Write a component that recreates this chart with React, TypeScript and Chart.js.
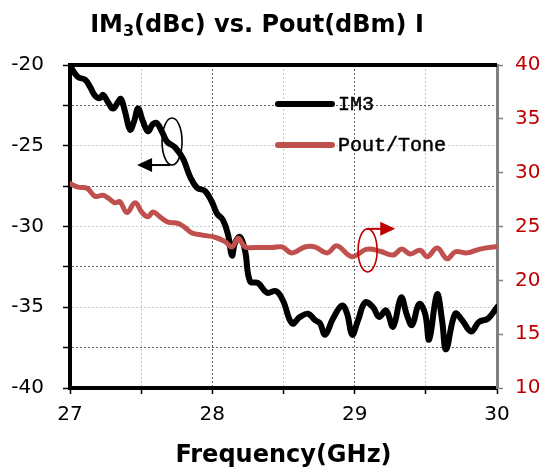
import React, { useEffect, useRef } from "react";
import { Chart, registerables } from "chart.js";

Chart.register(...registerables);

// ---------- data ----------
const im3Freq = [
  27.0, 27.056, 27.105, 27.141, 27.176, 27.211, 27.232, 27.267, 27.302, 27.337,
  27.358, 27.387, 27.422, 27.45, 27.478, 27.513, 27.548, 27.583, 27.611, 27.647,
  27.682, 27.738, 27.794, 27.843, 27.892, 27.949, 27.998, 28.033, 28.075, 28.11,
  28.138, 28.16, 28.195, 28.23, 28.265, 28.321, 28.384, 28.448, 28.497, 28.56,
  28.616, 28.673, 28.722, 28.757, 28.792, 28.848, 28.911, 28.947, 28.982, 29.024,
  29.073, 29.129, 29.171, 29.221, 29.27, 29.326, 29.368, 29.403, 29.453, 29.495,
  29.523, 29.579, 29.614, 29.642, 29.706, 29.755, 29.818, 29.874, 29.937, 30.0,
];
const im3Values = [
  -20.05, -20.75, -20.9, -21.35, -21.9, -22.05, -21.85, -22.3, -22.7, -22.3,
  -22.1, -22.9, -24.0, -23.5, -22.7, -23.5, -24.1, -23.65, -23.6, -24.15,
  -24.75, -25.1, -25.8, -26.9, -27.6, -27.8, -28.5, -29.2, -29.6, -30.5,
  -31.8, -31.0, -30.65, -31.5, -33.4, -33.5, -34.1, -34.0, -34.6, -36.0,
  -35.6, -35.4, -35.8, -36.0, -36.7, -35.7, -34.9, -35.4, -36.7, -35.8,
  -34.7, -35.0, -35.6, -35.2, -36.2, -34.4, -35.5, -36.1, -34.8, -35.4,
  -37.0, -34.2, -35.8, -37.6, -35.4, -35.8, -36.5, -35.9, -35.7, -35.0,
];

const poutFreq = [
  27.0, 27.056, 27.12, 27.176, 27.232, 27.267, 27.316, 27.351, 27.4, 27.457,
  27.506, 27.548, 27.583, 27.632, 27.689, 27.759, 27.808, 27.857, 27.928, 28.019,
  28.089, 28.138, 28.181, 28.23, 28.3, 28.42, 28.49, 28.56, 28.65, 28.72,
  28.806, 28.876, 28.98, 29.087, 29.18, 29.27, 29.33, 29.39, 29.46, 29.51,
  29.58, 29.65, 29.706, 29.79, 29.88, 30.0,
];
const poutValues = [
  29.0, 28.65, 28.55, 27.8, 27.9, 27.65, 27.2, 27.3, 26.3, 27.2,
  26.3, 25.9, 26.35, 25.9, 25.4, 25.3, 24.9, 24.4, 24.2, 24.0,
  23.6, 23.1, 23.9, 23.1, 23.05, 23.05, 23.1, 22.55, 23.1, 23.1,
  22.55, 23.2, 22.2, 22.9, 22.7, 22.35, 22.9, 22.45, 22.8, 22.2,
  23.0, 22.0, 22.65, 22.55, 22.9, 23.15,
];

const seriesNames = ["IM3", "Pout/Tone"];
const chartTitleMain = "IM";
const chartTitleSub = "3";
const chartTitleRest = "(dBc) vs. Pout(dBm) I";
const xAxisTitle = "Frequency(GHz)";

const xRange = [27, 30];
const leftRange = [-40, -20];
const rightRange = [10, 40];

// annotation anchors (data units)
const im3Marker = { x: 27.717, y: -24.74, rx: 0.0703, ry: 1.455, arrowTo: 27.471 };
const poutMarker = { x: 29.091, y: 22.78, rx: 0.0668, ry: 2.0, arrowTo: 29.285 };

const BLACK = "#000000";
const RED_LINE = "#c0504d";
const RED_TEXT = "#c00000";

const overlayPlugin = {
  id: "overlay",
  afterDatasetsDraw(chart: any) {
    const { ctx, chartArea, scales } = chart;
    const x = scales.x;
    const yl = scales.y;
    const yr = scales.y2;
    ctx.save();

    // top border
    ctx.strokeStyle = BLACK;
    ctx.lineWidth = 4;
    ctx.beginPath();
    ctx.moveTo(chartArea.left - 2, chartArea.top);
    ctx.lineTo(chartArea.right, chartArea.top);
    ctx.stroke();

    // legend
    const lx0 = chartArea.left + 208;
    const lx1 = chartArea.left + 262;
    const ly = [chartArea.top + 39, chartArea.top + 80];
    const cols = [BLACK, RED_LINE];
    ctx.lineCap = "round";
    ctx.font = "20px 'Liberation Mono'";
    ctx.textBaseline = "middle";
    ctx.textAlign = "left";
    for (let i = 0; i < 2; i++) {
      ctx.strokeStyle = cols[i];
      ctx.lineWidth = 6;
      ctx.beginPath();
      ctx.moveTo(lx0, ly[i]);
      ctx.lineTo(lx1, ly[i]);
      ctx.stroke();
      ctx.fillStyle = BLACK;
      ctx.strokeStyle = BLACK;
      ctx.lineWidth = 0.5;
      ctx.fillText(seriesNames[i], lx1 + 6, ly[i] + 1);
      ctx.strokeText(seriesNames[i], lx1 + 6, ly[i] + 1);
    }
    ctx.lineCap = "butt";

    // IM3 marker: ellipse + left arrow
    {
      const cx = x.getPixelForValue(im3Marker.x);
      const cy = yl.getPixelForValue(im3Marker.y);
      const rx = x.getPixelForValue(im3Marker.x + im3Marker.rx) - cx;
      const ry = yl.getPixelForValue(im3Marker.y - im3Marker.ry) - cy;
      ctx.strokeStyle = BLACK;
      ctx.lineWidth = 1.6;
      ctx.beginPath();
      ctx.ellipse(cx, cy, rx, ry, 0, 0, Math.PI * 2);
      ctx.stroke();
      const ay = cy + ry;
      const tip = x.getPixelForValue(im3Marker.arrowTo);
      ctx.lineWidth = 2;
      ctx.beginPath();
      ctx.moveTo(cx - 2, ay);
      ctx.lineTo(tip + 10, ay);
      ctx.stroke();
      ctx.fillStyle = BLACK;
      ctx.beginPath();
      ctx.moveTo(tip, ay);
      ctx.lineTo(tip + 15, ay - 7);
      ctx.lineTo(tip + 15, ay + 7);
      ctx.closePath();
      ctx.fill();
    }

    // Pout marker: ellipse + right arrow
    {
      const cx = x.getPixelForValue(poutMarker.x);
      const cy = yr.getPixelForValue(poutMarker.y);
      const rx = x.getPixelForValue(poutMarker.x + poutMarker.rx) - cx;
      const ry = yr.getPixelForValue(poutMarker.y - poutMarker.ry) - cy;
      ctx.strokeStyle = RED_TEXT;
      ctx.lineWidth = 1.6;
      ctx.beginPath();
      ctx.ellipse(cx, cy, rx, ry, 0, 0, Math.PI * 2);
      ctx.stroke();
      const ay = cy - ry;
      const tip = x.getPixelForValue(poutMarker.arrowTo);
      ctx.lineWidth = 2;
      ctx.beginPath();
      ctx.moveTo(cx - 1, ay);
      ctx.lineTo(tip - 10, ay);
      ctx.stroke();
      ctx.fillStyle = RED_TEXT;
      ctx.beginPath();
      ctx.moveTo(tip, ay);
      ctx.lineTo(tip - 15, ay - 7);
      ctx.lineTo(tip - 15, ay + 7);
      ctx.closePath();
      ctx.fill();
    }
    ctx.restore();
  },
  afterDraw(chart: any) {
    const ctx = chart.ctx;
    ctx.save();
    const big = "bold 24px 'DejaVu Sans'";
    const small = "bold 16px 'DejaVu Sans'";
    ctx.font = big;
    const w1 = ctx.measureText(chartTitleMain).width;
    const w3 = ctx.measureText(chartTitleRest).width;
    ctx.font = small;
    const w2 = ctx.measureText(chartTitleSub).width;
    const total = w1 + w2 + w3;
    let sx = 257 - total / 2;
    const base = 32;
    ctx.fillStyle = BLACK;
    ctx.textBaseline = "alphabetic";
    ctx.textAlign = "left";
    ctx.font = big;
    ctx.fillText(chartTitleMain, sx, base);
    sx += w1;
    ctx.font = small;
    ctx.fillText(chartTitleSub, sx, base + 4);
    sx += w2;
    ctx.font = big;
    ctx.fillText(chartTitleRest, sx, base);
    ctx.restore();
  },
};

export default function App() {
  const ref = useRef<HTMLCanvasElement | null>(null);
  useEffect(() => {
    if (!ref.current) return;
    const im3Data = im3Freq.map((f, i) => ({ x: f, y: im3Values[i] }));
    const poutData = poutFreq.map((f, i) => ({ x: f, y: poutValues[i] }));
    const tickFont = { family: "'DejaVu Sans'", size: 20 };
    const chart = new Chart(ref.current, {
      type: "line",
      data: {
        datasets: [
          {
            label: seriesNames[0],
            data: im3Data,
            borderColor: BLACK,
            borderWidth: 6,
            pointRadius: 0,
            tension: 0.4,
            borderJoinStyle: "round",
            borderCapStyle: "round",
            yAxisID: "y",
            order: 1,
          },
          {
            label: seriesNames[1],
            data: poutData,
            borderColor: RED_LINE,
            borderWidth: 5,
            pointRadius: 0,
            tension: 0.4,
            borderJoinStyle: "round",
            borderCapStyle: "round",
            yAxisID: "y2",
            order: 0,
          },
        ],
      },
      options: {
        animation: false,
        responsive: false,
        maintainAspectRatio: false,
        devicePixelRatio: 1,
        layout: { padding: { top: 65, left: 0, right: 0, bottom: 0 } },
        plugins: { legend: { display: false }, title: { display: false }, tooltip: { enabled: false } },
        scales: {
          x: {
            type: "linear",
            position: "bottom",
            min: xRange[0],
            max: xRange[1],
            afterFit: (s: any) => { s.height = 80; },
            ticks: {
              stepSize: 0.5,
              color: BLACK,
              font: tickFont,
              padding: 9,
              maxRotation: 0,
              autoSkip: false,
              callback: (v: any) => (Number.isInteger(v) ? String(v) : ""),
            },
            grid: {
              color: (c: any) => {
                const v = c.tick ? c.tick.value : null;
                if (v === xRange[0] || v === xRange[1]) return "rgba(0,0,0,0)";
                return Number.isInteger(v) ? "#606060" : "#c8c8c8";
              },
              lineWidth: 1,
              tickColor: BLACK,
              tickLength: 6,
              tickWidth: 1.5,
            },
            border: { display: true, color: BLACK, width: 4, dash: [2, 2] },
            title: {
              display: true,
              text: xAxisTitle,
              color: BLACK,
              font: { family: "'DejaVu Sans'", size: 24, weight: "bold" },
              padding: { top: 0, bottom: -2 },
            },
          },
          y: {
            type: "linear",
            position: "left",
            min: leftRange[0],
            max: leftRange[1],
            afterFit: (s: any) => { s.width = 70; },
            ticks: {
              stepSize: 2.5,
              color: BLACK,
              font: tickFont,
              padding: 19,
              autoSkip: false,
              callback: (v: any) => (v % 5 === 0 ? String(v) : ""),
            },
            grid: {
              color: (c: any) => {
                const v = c.tick ? c.tick.value : null;
                if (v === leftRange[0] || v === leftRange[1]) return "rgba(0,0,0,0)";
                return v % 5 === 0 ? "#c8c8c8" : "#606060";
              },
              lineWidth: 1,
              tickColor: BLACK,
              tickLength: 7,
              tickWidth: 1.5,
            },
            border: { display: true, color: BLACK, width: 4, dash: [2, 2] },
          },
          y2: {
            type: "linear",
            position: "right",
            min: rightRange[0],
            max: rightRange[1],
            afterFit: (s: any) => { s.width = 46; },
            ticks: {
              stepSize: 5,
              color: RED_TEXT,
              font: tickFont,
              padding: 12,
              autoSkip: false,
            },
            grid: {
              drawOnChartArea: false,
              color: "#808080",
              tickColor: "#808080",
              tickLength: 6,
              tickWidth: 1.5,
            },
            border: { display: true, color: "#808080", width: 3 },
          },
        },
      },
      plugins: [overlayPlugin],
    } as any);
    return () => chart.destroy();
  }, []);
  return (
    <div style={{ position: "fixed", left: 0, top: 0, width: 543, height: 468, background: "#fff" }}>
      <canvas ref={ref} width={543} height={468} style={{ width: 543, height: 468, display: "block" }} />
    </div>
  );
}
